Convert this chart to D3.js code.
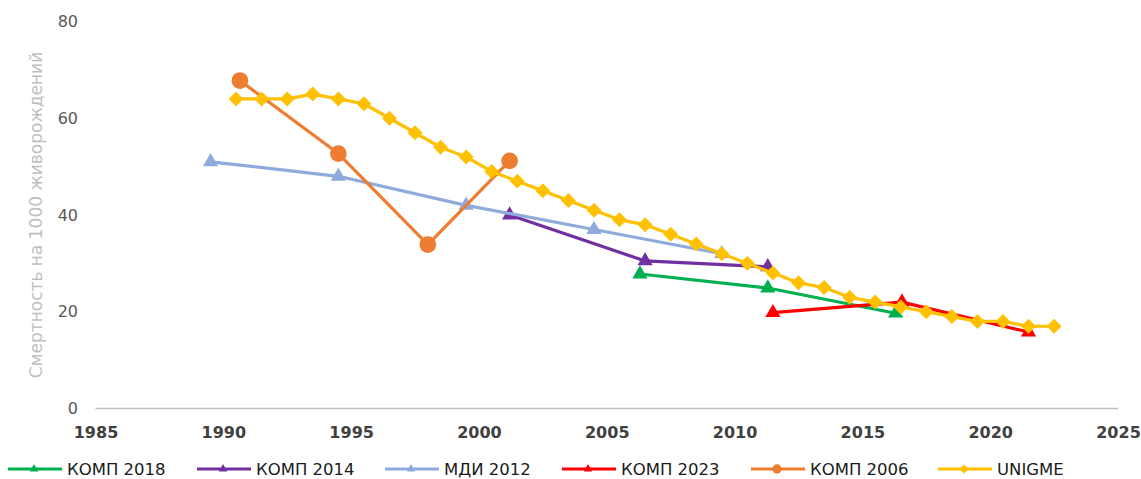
<!DOCTYPE html>
<html>
<head>
<meta charset="utf-8">
<script src="https://cdn.jsdelivr.net/npm/d3@7"></script>
<style>
  body { margin: 0; background: #fff; }
  text { font-family: "DejaVu Sans", sans-serif; }
</style>
</head>
<body>
<svg width="1141" height="479"></svg>
<script>
const width = 1141;
const height = 479;

// data: [year, deaths per 1000 live births]
const komp2018 = [[2006.3, 27.8], [2011.3, 24.9], [2016.3, 19.7]];
const komp2014 = [[2001.2, 40], [2006.5, 30.5], [2011.3, 29.3]];
const mdi2012 = [[1989.5, 51], [1994.5, 48], [1999.5, 42], [2004.5, 37], [2009.5, 32]];
const komp2023 = [[2011.5, 19.8], [2016.55, 22], [2021.5, 15.8]];
const komp2006 = [[1990.65, 67.8], [1994.5, 52.7], [1998.0, 33.9], [2001.2, 51.2]];
const unigmeYears = [1990.5, 1991.5, 1992.5, 1993.5, 1994.5, 1995.5, 1996.5, 1997.5, 1998.5, 1999.5,
                     2000.5, 2001.5, 2002.5, 2003.5, 2004.5, 2005.5, 2006.5, 2007.5, 2008.5, 2009.5,
                     2010.5, 2011.5, 2012.5, 2013.5, 2014.5, 2015.5, 2016.5, 2017.5, 2018.5, 2019.5,
                     2020.5, 2021.5, 2022.5];
const unigmeValues = [64, 64, 64, 65, 64, 63, 60, 57, 54, 52, 49, 47, 45, 43, 41, 39, 38,
                      36, 34, 32, 30, 28, 26, 25, 23, 22, 21, 20, 19, 18, 18, 17, 17];
const unigme = unigmeYears.map((y, i) => [y, unigmeValues[i]]);

const xTicks = [1985, 1990, 1995, 2000, 2005, 2010, 2015, 2020, 2025];
const yTicks = [0, 20, 40, 60, 80];

const series = [
    {name: "КОМП 2018", data: komp2018, color: "#00B050", marker: "triangle"},
    {name: "КОМП 2014", data: komp2014, color: "#7030A0", marker: "triangle"},
    {name: "МДИ 2012", data: mdi2012, color: "#8FAADC", marker: "triangle"},
    {name: "КОМП 2023", data: komp2023, color: "#FF0000", marker: "triangle"},
    {name: "КОМП 2006", data: komp2006, color: "#ED7D31", marker: "circle"},
    {name: "UNIGME", data: unigme, color: "#FFC000", marker: "diamond"}
];

const xScale = d3.scaleLinear().domain([1985, 2025]).range([95.5, 1118]);
const yScale = d3.scaleLinear().domain([0, 80]).range([408.5, 21.5]);

const svg = d3.select("svg");

// baseline
svg.append("line")
    .attr("x1", xScale(1985)).attr("x2", xScale(2025))
    .attr("y1", yScale(0)).attr("y2", yScale(0))
    .attr("stroke", "#bfbfbf").attr("stroke-width", 1.3);

const xAxis = d3.axisBottom(xScale).tickValues(xTicks).tickFormat(d3.format("d")).tickSize(0).tickPadding(18);
svg.append("g")
    .attr("transform", "translate(0," + yScale(0) + ")")
    .call(xAxis)
    .call(g => g.select(".domain").remove())
    .selectAll("text")
        .style("font-family", "DejaVu Sans")
        .style("font-size", "16px")
        .style("font-weight", "bold")
        .attr("fill", "#404040");

const yAxis = d3.axisLeft(yScale).tickValues(yTicks).tickSize(0).tickPadding(0);
svg.append("g")
    .attr("transform", "translate(78,0)")
    .call(yAxis)
    .call(g => g.select(".domain").remove())
    .selectAll("text")
        .style("font-family", "DejaVu Sans")
        .style("font-size", "16px")
        .attr("fill", "#595959");

svg.append("text")
    .attr("transform", "rotate(-90)")
    .attr("x", -215)
    .attr("y", 42)
    .style("text-anchor", "middle")
    .style("font-size", "17px")
    .attr("fill", "#bfbfbf")
    .text("Смертность на 1000 живорождений");

const markerShape = (type, big) => {
    if (type === "triangle") return d3.symbol().type(d3.symbolTriangle).size(big ? 100 : 32)();
    if (type === "circle") return d3.symbol().type(d3.symbolCircle).size(big ? 220 : 68)();
    return d3.symbol().type(d3.symbolSquare).size(big ? 112 : 42)();
};
const rot = type => type === "diamond" ? " rotate(45)" : "";

const line = d3.line().x(d => xScale(d[0])).y(d => yScale(d[1]));

series.forEach(s => {
    const g = svg.append("g");
    g.append("path")
        .datum(s.data)
        .attr("d", line)
        .attr("fill", "none")
        .attr("stroke", s.color)
        .attr("stroke-width", 3.2)
        .attr("stroke-linejoin", "round");
    g.selectAll("path.mark")
        .data(s.data)
        .enter()
        .append("path")
        .attr("class", "mark")
        .attr("transform", d => "translate(" + xScale(d[0]) + "," + yScale(d[1]) + ")" + rot(s.marker))
        .attr("d", markerShape(s.marker, true))
        .attr("fill", s.color);
});

// legend
const legendX = [8, 197, 385, 562, 751, 938];
const legend = svg.append("g").attr("transform", "translate(0,469)");
series.forEach((s, i) => {
    const item = legend.append("g").attr("transform", "translate(" + legendX[i] + ",0)");
    item.append("line")
        .attr("x1", 0).attr("x2", 54)
        .attr("stroke", s.color).attr("stroke-width", 3.2);
    item.append("path")
        .attr("transform", "translate(26,0)" + rot(s.marker))
        .attr("d", markerShape(s.marker, false))
        .attr("fill", s.color);
    item.append("text")
        .attr("x", 59)
        .attr("dy", "0.36em")
        .style("font-size", "16.5px")
        .attr("fill", "#1a1a1a")
        .text(s.name);
});
</script>
</body>
</html>
